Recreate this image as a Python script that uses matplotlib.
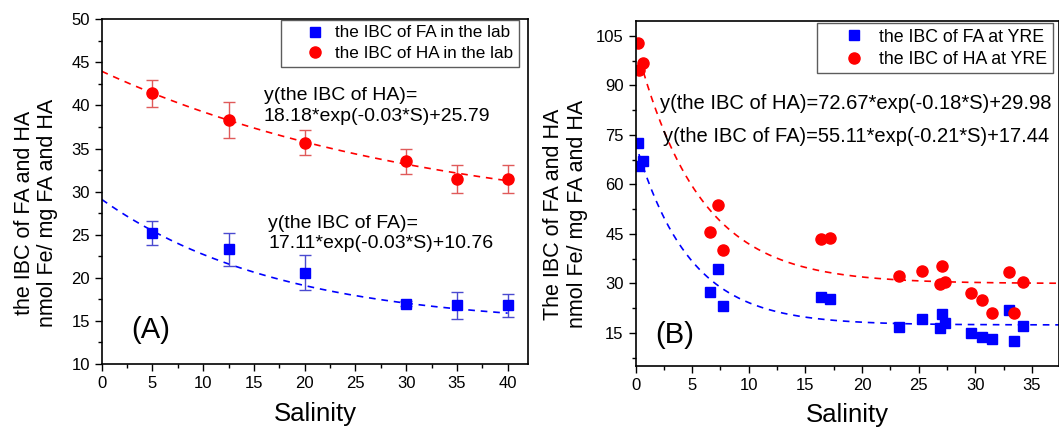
import numpy as np
import matplotlib
matplotlib.use("Agg")
import matplotlib.pyplot as plt
from matplotlib.ticker import MultipleLocator

plt.rcParams['font.family'] = ['Liberation Sans', 'DejaVu Sans']

# Panel A: lab experiments
lab_salinity = [5, 12.5, 20, 30, 35, 40]
lab_ha = [41.4, 38.3, 35.7, 33.5, 31.5, 31.5]
lab_ha_err = [1.6, 2.1, 1.5, 1.5, 1.6, 1.6]
lab_fa = [25.2, 23.3, 20.6, 17.0, 16.8, 16.8]
lab_fa_err = [1.4, 1.9, 2.0, 0.3, 1.6, 1.3]
# fitted curves as drawn: a*exp(-k*S)+c
lab_ha_fit = (18.18, 0.03, 25.79)
lab_fa_fit = (14.7, 0.057, 14.4)

# Panel B: field samples at YRE
yre_salinity = [0.18, 0.30, 0.69, 7.25, 6.57, 7.76, 16.35, 17.16, 23.3, 25.3,
                27.09, 26.85, 27.33, 29.66, 30.58, 31.51, 33.0, 33.42, 34.19]
yre_ha = [102.8, 94.7, 96.9, 53.8, 45.5, 40.2, 43.4, 43.8, 32.3, 33.9,
          35.4, 29.8, 30.5, 27.0, 25.0, 21.0, 33.6, 21.2, 30.5]
yre_fa = [72.5, 65.7, 67.1, 34.3, 27.4, 23.2, 26.0, 25.2, 16.9, 19.1,
          20.7, 16.4, 17.9, 14.9, 13.9, 13.1, 22.0, 12.7, 17.1]
yre_ha_fit = (72.67, 0.18, 29.98)
yre_fa_fit = (55.11, 0.21, 17.44)

RED = '#ff0000'
BLUE = '#0000ff'
W, H = 1059, 429


def fit_curve(p, s):
    a, k, c = p
    return a * np.exp(-k * s) + c


def style_axes(ax):
    for sp in ax.spines.values():
        sp.set_linewidth(1.2)
    ax.tick_params(which='both', direction='out', top=False, right=False,
                   labelsize=12, width=1.0)
    ax.tick_params(which='major', length=5)
    ax.tick_params(which='minor', length=3)


fig = plt.figure(figsize=(10.59, 4.29), dpi=100)

# ---- (A)
ax1 = fig.add_axes([101.7 / W, 1 - 364 / H, 426.3 / W, (364 - 19.3) / H])
s = np.linspace(0, 40, 200)
ax1.plot(s, fit_curve(lab_ha_fit, s), color=RED, ls=(0, (4, 3.5)), lw=1.2)
ax1.plot(s, fit_curve(lab_fa_fit, s), color=BLUE, ls=(0, (4, 3.5)), lw=1.2)
ax1.errorbar(lab_salinity, lab_fa, yerr=lab_fa_err, fmt='s', color=BLUE,
             ms=7, ecolor='#4a4ad0', elinewidth=1, capsize=4, capthick=1,
             label='the IBC of FA in the lab')
ax1.errorbar(lab_salinity, lab_ha, yerr=lab_ha_err, fmt='o', color=RED,
             ms=8, ecolor='#e05a5a', elinewidth=1, capsize=4, capthick=1,
             label='the IBC of HA in the lab')
ax1.set_xlim(0, 42)
ax1.set_ylim(10, 50)
ax1.xaxis.set_major_locator(MultipleLocator(5))
ax1.xaxis.set_minor_locator(MultipleLocator(2.5))
ax1.yaxis.set_major_locator(MultipleLocator(5))
ax1.yaxis.set_minor_locator(MultipleLocator(2.5))
style_axes(ax1)
h, l = ax1.get_legend_handles_labels()
leg = ax1.legend([hh[0] for hh in h], l, loc='upper left',
                 bbox_to_anchor=(281 / W, 1 - 19.5 / H),
                 bbox_transform=fig.transFigure, fontsize=12.3,
                 frameon=True, fancybox=False, edgecolor='#333333',
                 borderaxespad=0, borderpad=0.35, handletextpad=-0.47,
                 labelspacing=0.35, handlelength=3.27)
leg.get_frame().set_linewidth(1.0)
ax1.text(15.95, 39.95, 'y(the IBC of HA)=\n18.18*exp(-0.03*S)+25.79',
         fontsize=14, va='center', ha='left', linespacing=1.29)
ax1.text(16.4, 25.15, 'y(the IBC of FA)=\n17.11*exp(-0.03*S)+10.76',
         fontsize=14, va='center', ha='left', linespacing=1.29)
ax1.text(2.9, 13.95, '(A)', fontsize=21, va='center', ha='left')
fig.text(315 / W, 1 - 414 / H, 'Salinity', fontsize=18.5,
         ha='center', va='center')
fig.text(36 / W, 1 - 213 / H, 'the IBC of FA and HA\nnmol Fe/ mg FA and HA',
         fontsize=15.5, rotation=90, ha='center', va='center',
         linespacing=1.16)

# ---- (B)
ax2 = fig.add_axes([635.5 / W, 1 - 366 / H, (W - 635.5) / W, (366 - 21) / H])
s2 = np.linspace(0.7, 38, 300)
s3 = np.linspace(0.3, 38, 300)
ax2.plot(s2, fit_curve(yre_ha_fit, s2), color=RED, ls=(0, (4, 3.5)), lw=1.2)
ax2.plot(s3, fit_curve(yre_fa_fit, s3), color=BLUE, ls=(0, (4, 3.5)), lw=1.2)
ax2.plot(yre_salinity, yre_fa, 's', color=BLUE, ms=7, ls='none',
         label='the IBC of FA at YRE')
ax2.plot(yre_salinity, yre_ha, 'o', color=RED, ms=8, ls='none',
         label='the IBC of HA at YRE')
ax2.set_xlim(0, 37.4)
ax2.set_ylim(5, 109.5)
ax2.xaxis.set_major_locator(MultipleLocator(5))
ax2.xaxis.set_minor_locator(MultipleLocator(2.5))
ax2.yaxis.set_major_locator(MultipleLocator(15))
ax2.yaxis.set_minor_locator(MultipleLocator(7.5))
ax2.set_yticks([15, 30, 45, 60, 75, 90, 105])
style_axes(ax2)
leg2 = ax2.legend(loc='upper left', bbox_to_anchor=(816.7 / W, 1 - 23.3 / H),
                  bbox_transform=fig.transFigure, fontsize=12.8, frameon=True,
                  fancybox=False, edgecolor='#333333', borderaxespad=0,
                  borderpad=0.3, handletextpad=-0.38, labelspacing=0.3,
                  handlelength=3.6)
leg2.get_frame().set_linewidth(1.0)
ax2.text(2.16, 84.6, 'y(the IBC of HA)=72.67*exp(-0.18*S)+29.98',
         fontsize=14.5, va='center', ha='left')
ax2.text(2.47, 74.5, 'y(the IBC of FA)=55.11*exp(-0.21*S)+17.44',
         fontsize=14.5, va='center', ha='left')
ax2.text(1.72, 14.4, '(B)', fontsize=21, va='center', ha='left')
fig.text(847 / W, 1 - 415 / H, 'Salinity', fontsize=18.5,
         ha='center', va='center')
fig.text(565.5 / W, 1 - 214 / H, 'The IBC of FA and HA\nnmol Fe/ mg FA and HA',
         fontsize=15.5, rotation=90, ha='center', va='center',
         linespacing=1.16)

fig.savefig('out.png', dpi=100)
